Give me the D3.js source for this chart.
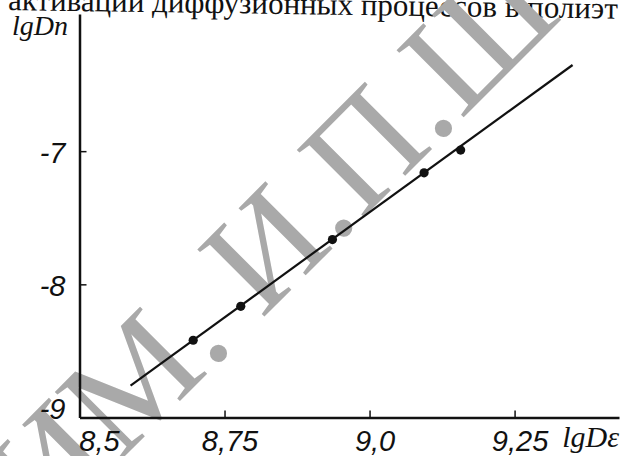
<!DOCTYPE html>
<html lang="ru">
<head>
    <meta charset="UTF-8">
    <title>lgDn — lgDε</title>
    <script src="https://d3js.org/d3.v7.min.js"></script>
    <style>
        body { margin: 0; background: #fff; }
        svg { display: block; }
        .tick-label { font-family: "Liberation Sans", Arial, sans-serif; font-style: italic; font-size: 29px; fill: #111; }
        .axis-title { font-family: "Liberation Serif", "Times New Roman", serif; font-style: italic; font-size: 28px; fill: #111; }
        .page-text { font-family: "Liberation Serif", "Times New Roman", serif; font-size: 31px; fill: #111; }
        .watermark { font-family: "Liberation Serif", "Times New Roman", serif; font-size: 145px; fill: #a9a9a9; }
    </style>
</head>
<body>
    <div id="chart"></div>
    <script>
        // values
        const xTicks = [8.5, 8.75, 9.0, 9.25];
        const xTickLabels = ["8,5", "8,75", "9,0", "9,25"];
        const yTicks = [-9, -8, -7];
        const yTickLabels = ["-9", "-8", "-7"];
        const lgDe = [8.696, 8.778, 8.936, 9.094, 9.157];
        const lgDn = [-8.42, -8.165, -7.664, -7.163, -6.992];
        const fitX = [8.588, 9.350];
        const fitY = [-8.76, -6.353];

        const pageText = "активации диффузионных процессов в полиэт";
        const stampText = "ИМ. И.П.Ш";

        const width = 622, height = 456;

        const x = d3.scaleLinear().domain([8.5, 9.43]).range([79.5, 619]);
        const y = d3.scaleLinear().domain([-9, -5.97]).range([417.5, 14]);

        const svg = d3.select("#chart").append("svg")
            .attr("width", width)
            .attr("height", height);

        // book page text cut off at the top
        const title = svg.append("text")
            .attr("class", "page-text")
            .attr("transform", "translate(0,10) rotate(0.8)")
            .text(pageText);
        const before = title.node().getSubStringLength(0, 10); // "активации "
        title.attr("x", 152 - before);

        // library stamp behind the chart
        const stamp = svg.append("g")
            .attr("transform", "translate(223,358) rotate(-45)")
            .append("text")
            .attr("class", "watermark")
            .text(stampText);
        const sn = stamp.node();
        const toDot = sn.getSubStringLength(0, 2) + sn.getSubStringLength(2, 1) / 2;
        stamp.attr("x", -toDot);

        // x axis
        const xAxis = svg.append("g")
            .attr("transform", `translate(0,${y(-9)})`)
            .call(d3.axisBottom(x).tickValues(xTicks).tickSizeInner(-7).tickSizeOuter(0)
                .tickFormat((d, i) => xTickLabels[i]));
        xAxis.select(".domain").attr("stroke", "#111").attr("stroke-width", 2.5);
        xAxis.selectAll(".tick line").attr("stroke", "#111").attr("stroke-width", 1.5)
            .attr("display", d => d === 8.5 ? "none" : null);
        xAxis.selectAll(".tick text")
            .attr("class", "tick-label")
            .attr("y", 33).attr("dy", null)
            .attr("x", d => d === 8.5 ? 19.5 : 5);
        xAxis.attr("font-size", null).attr("font-family", null);

        // y axis
        const yAxis = svg.append("g")
            .attr("transform", `translate(${x(8.5)},0)`)
            .call(d3.axisLeft(y).tickValues(yTicks).tickSizeInner(-7).tickSizeOuter(0)
                .tickFormat((d, i) => yTickLabels[i]));
        yAxis.select(".domain").attr("stroke", "#111").attr("stroke-width", 2.5);
        yAxis.selectAll(".tick line").attr("stroke", "#111").attr("stroke-width", 1.5)
            .attr("display", d => d === -9 ? "none" : null);
        yAxis.selectAll(".tick text")
            .attr("class", "tick-label")
            .attr("x", -14)
            .attr("dy", d => d === -9 ? "0.02em" : "0.38em");
        yAxis.attr("font-size", null).attr("font-family", null);

        // axis names
        svg.append("text").attr("class", "axis-title")
            .attr("x", 12).attr("y", 35).text("lgDn");
        svg.append("text").attr("class", "axis-title")
            .attr("x", 619).attr("y", 447).attr("text-anchor", "end")
            .style("font-size", "30px").text("lgDε");

        // fitted line
        const line = d3.line().x(d => x(d[0])).y(d => y(d[1]));
        svg.append("path")
            .datum(d3.zip(fitX, fitY))
            .attr("fill", "none")
            .attr("stroke", "#111")
            .attr("stroke-width", 2.2)
            .attr("d", line);

        // measured points
        svg.selectAll(".pt")
            .data(d3.zip(lgDe, lgDn))
            .join("circle")
            .attr("class", "pt")
            .attr("cx", d => x(d[0]))
            .attr("cy", d => y(d[1]))
            .attr("r", 4.6)
            .attr("fill", "#111");
    </script>
</body>
</html>
